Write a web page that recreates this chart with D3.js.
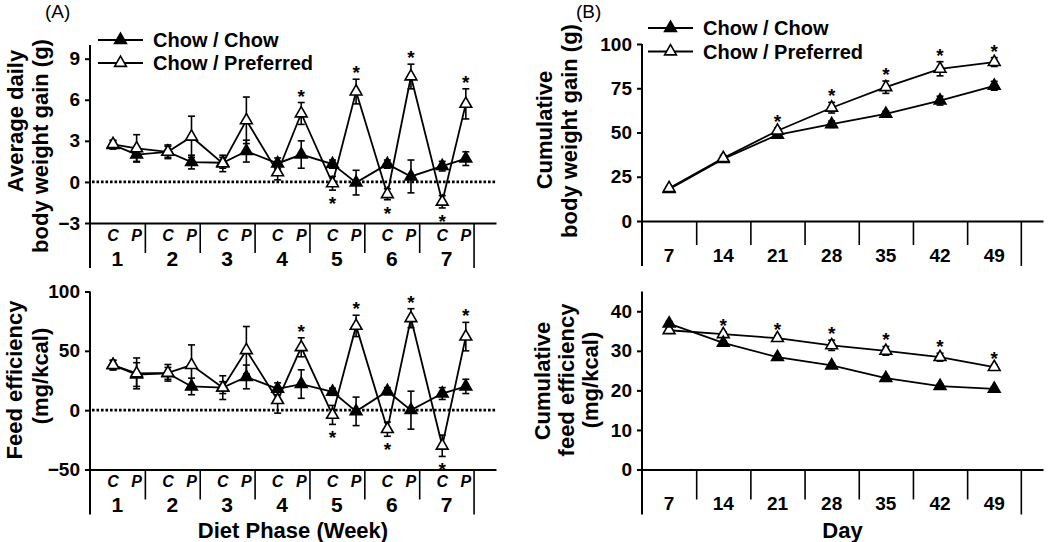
<!DOCTYPE html>
<html>
<head>
<meta charset="utf-8">
<script src="https://cdn.jsdelivr.net/npm/d3@7"></script>
<style>
  html, body { margin: 0; padding: 0; background: #fff; }
  svg { display: block; font-family: "Liberation Sans", Arial, Helvetica, sans-serif; }
</style>
</head>
<body>
<svg id="chart" width="1050" height="542"></svg>
<script>
// ---------------- data ----------------
const seriesNames = ["Chow / Chow", "Chow / Preferred"];
const weekLabels = ["1", "2", "3", "4", "5", "6", "7"];
const phaseLabels = ["C", "P"];
const dayLabels = ["7", "14", "21", "28", "35", "42", "49"];

// (A) top: average daily body weight gain (g), order C1,P1,C2,P2,...,C7,P7
const avgGainCC    = [2.7, 2.0, 2.2, 1.45, 1.4, 2.25, 1.35, 2.0, 1.3, -0.05, 1.3, 0.4, 1.15, 1.7];
const avgGainCCsem = [0.3, 0.5, 0.4, 0.5, 0.4, 0.8, 0.4, 1.0, 0.3, 0.9, 0.3, 1.2, 0.35, 0.5];
const avgGainCP    = [2.75, 2.45, 2.2, 3.3, 1.35, 4.5, 0.7, 5.0, -0.1, 6.6, -0.9, 7.7, -1.45, 5.7];
const avgGainCPsem = [0.3, 1.0, 0.5, 1.5, 0.6, 1.7, 0.55, 0.8, 0.5, 0.9, 0.4, 0.9, 0.45, 1.1];
const avgGainSig   = ["", "", "", "", "", "", "", "up", "down", "up", "down", "up", "down", "up"];

// (A) bottom: feed efficiency (mg/kcal)
const feedEffCC    = [38, 30, 31, 20, 19, 28, 18, 22, 15.5, -1, 16, 0, 14, 20];
const feedEffCCsem = [4, 10, 5, 7, 5, 10, 5, 12, 3, 12, 3, 16, 5, 6];
const feedEffCP    = [38, 31, 31.5, 38, 19, 50.5, 8.5, 53, -4, 71, -16, 77.5, -30, 62];
const feedEffCPsem = [4, 13, 7, 17, 10, 20, 11, 8, 8, 9, 6, 8, 9, 12];
const feedEffSig   = ["", "", "", "", "", "", "", "up", "down", "up", "down", "up", "down", "up"];

// (B) top: cumulative body weight gain (g)
const cumGainCC    = [18, 35, 48.7, 54.7, 60.5, 68, 76.4];
const cumGainCCsem = [1, 1.2, 1.5, 1.8, 1.5, 2.5, 2.5];
const cumGainCP    = [18.5, 35.5, 51, 64, 75.6, 86, 89.8];
const cumGainCPsem = [1, 1.5, 1.5, 3, 3.5, 4, 2.5];
const cumGainSig   = ["", "", "up", "up", "up", "up", "up"];

// (B) bottom: cumulative feed efficiency (mg/kcal)
const cumEffCC     = [36.9, 32, 28.4, 26.3, 23.1, 21.1, 20.4];
const cumEffCCsem  = [0.5, 0.5, 0.5, 0.5, 0.5, 0.5, 0.5];
const cumEffCP     = [35.2, 34.2, 33.2, 31.4, 30, 28.4, 25.9];
const cumEffCPsem  = [0.5, 0.6, 0.6, 1.3, 1.1, 1.0, 0.6];
const cumEffSig    = ["", "up", "up", "up", "up", "up", "up"];

// ---------------- drawing ----------------
const svg = d3.select("#chart");
svg.append("rect").attr("width", 1050).attr("height", 542).attr("fill", "#fff");

const tri = d3.symbol().type(d3.symbolTriangle).size(60);

function drawPanel(cfg) {
  const g = svg.append("g");
  const x = d3.scaleLinear().domain([0, 7.4]).range([cfg.x0, cfg.x1]);
  const y = d3.scaleLinear().domain(cfg.yDomain).range([cfg.yBottom, cfg.yTop]);
  const xPos = cfg.phased
    ? (i => x(Math.floor(i / 2) + (i % 2 ? 0.85 : 0.42)))
    : (i => x(i + 0.5));

  // y axis
  const ya = g.append("g").attr("transform", `translate(${cfg.x0},0)`)
    .call(d3.axisLeft(y).tickValues(cfg.yTicks).tickSize(5).tickPadding(5).tickSizeOuter(0));
  ya.select(".domain").remove();
  ya.selectAll(".tick line").attr("stroke", "#000").attr("stroke-width", 2);
  ya.selectAll(".tick text").attr("font-size", 19).attr("font-weight", "bold")
    .attr("fill", "#000").attr("font-family", "Liberation Sans, Arial, sans-serif");
  g.append("line").attr("x1", cfg.x0).attr("x2", cfg.x0)
    .attr("y1", cfg.yTop).attr("y2", cfg.yBottom + 45)
    .attr("stroke", "#000").attr("stroke-width", 2);

  // x axis with category box dividers
  const xa = g.append("g").attr("transform", `translate(0,${cfg.yBottom})`)
    .call(d3.axisBottom(x).tickValues([1, 2, 3, 4, 5, 6]).tickSize(cfg.divLen).tickFormat("").tickSizeOuter(0));
  xa.select(".domain").attr("stroke", "#000").attr("stroke-width", 2);
  xa.selectAll(".tick line").attr("stroke", "#000").attr("stroke-width", 1.6);
  g.append("line").attr("x1", x(7)).attr("x2", x(7))
    .attr("y1", cfg.yBottom).attr("y2", cfg.yBottom + 45)
    .attr("stroke", "#000").attr("stroke-width", 1.6);

  if (cfg.phased) {
    weekLabels.forEach((w, k) => {
      phaseLabels.forEach((p, j) => {
        g.append("text").attr("x", xPos(k * 2 + j)).attr("y", cfg.yBottom + 12)
          .attr("text-anchor", "middle").attr("dominant-baseline", "central")
          .attr("font-size", 16).attr("font-weight", "bold").attr("font-style", "italic")
          .text(p);
      });
      g.append("text").attr("x", x(k + 0.5)).attr("y", cfg.yBottom + 35)
        .attr("text-anchor", "middle").attr("dominant-baseline", "central")
        .attr("font-size", 21).attr("font-weight", "bold").text(w);
    });
  } else {
    dayLabels.forEach((d, k) => {
      g.append("text").attr("x", xPos(k)).attr("y", cfg.yBottom + 34)
        .attr("text-anchor", "middle").attr("dominant-baseline", "central")
        .attr("font-size", 19).attr("font-weight", "bold").text(d);
    });
  }

  // zero reference line
  if (cfg.zeroLine) {
    g.append("line").attr("x1", cfg.x0 + 2).attr("x2", cfg.x1)
      .attr("y1", y(0)).attr("y2", y(0))
      .attr("stroke", "#000").attr("stroke-width", 2.6).attr("stroke-dasharray", "2.6 1.9");
  }

  // y title
  cfg.yTitle.forEach((t, k) => {
    g.append("text")
      .attr("transform", `translate(${cfg.yTitleX[k]},${cfg.yTitleY[k]}) rotate(-90)`)
      .attr("text-anchor", "middle").attr("dominant-baseline", "central")
      .attr("font-size", 22).attr("font-weight", "bold").text(t);
  });

  // error bars
  const cap = 3.5;
  function errBars(vals, sems) {
    vals.forEach((v, i) => {
      const cx = xPos(i);
      const y1 = y(v - sems[i]), y2 = y(v + sems[i]);
      g.append("line").attr("x1", cx).attr("x2", cx).attr("y1", y1).attr("y2", y2)
        .attr("stroke", "#000").attr("stroke-width", 1.6);
      [y1, y2].forEach(yy => g.append("line").attr("x1", cx - cap).attr("x2", cx + cap)
        .attr("y1", yy).attr("y2", yy).attr("stroke", "#000").attr("stroke-width", 1.6));
    });
  }
  errBars(cfg.cc, cfg.ccSem);
  errBars(cfg.cp, cfg.cpSem);

  const line = d3.line().x((d, i) => xPos(i)).y(d => y(d));
  g.append("path").datum(cfg.cc).attr("d", line).attr("fill", "none")
    .attr("stroke", "#000").attr("stroke-width", 1.8);
  g.append("path").datum(cfg.cp).attr("d", line).attr("fill", "none")
    .attr("stroke", "#000").attr("stroke-width", 1.8);

  function markers(vals, filled) {
    vals.forEach((v, i) => {
      g.append("path").attr("d", tri)
        .attr("transform", `translate(${xPos(i)},${y(v)})`)
        .attr("fill", filled ? "#000" : "#fff")
        .attr("stroke", "#000").attr("stroke-width", 1.6);
    });
  }
  if (cfg.filledOnTop) { markers(cfg.cp, false); markers(cfg.cc, true); }
  else { markers(cfg.cc, true); markers(cfg.cp, false); }

  // significance stars
  cfg.sig.forEach((s, i) => {
    if (!s) return;
    const cx = xPos(i);
    if (s === "up") {
      const top = Math.max(cfg.cp[i] + cfg.cpSem[i], cfg.cc[i] + cfg.ccSem[i]);
      g.append("text").attr("x", cx).attr("y", y(top))
        .attr("text-anchor", "middle").attr("font-size", 19).attr("font-weight", "bold").text("*");
    } else {
      const bot = cfg.cp[i] - cfg.cpSem[i];
      g.append("text").attr("x", cx).attr("y", y(bot) + 20)
        .attr("text-anchor", "middle").attr("font-size", 19).attr("font-weight", "bold").text("*");
    }
  });

  // legend
  if (cfg.legend) {
    const L = cfg.legend;
    seriesNames.forEach((name, k) => {
      const ly = L.y + k * L.dy;
      g.append("line").attr("x1", L.x).attr("x2", L.x + 45).attr("y1", ly).attr("y2", ly)
        .attr("stroke", "#000").attr("stroke-width", 1.8);
      g.append("path").attr("d", tri).attr("transform", `translate(${L.x + 22.5},${ly})`)
        .attr("fill", k === 0 ? "#000" : "#fff").attr("stroke", "#000").attr("stroke-width", 1.6);
      g.append("text").attr("x", L.x + 55).attr("y", ly).attr("dominant-baseline", "central")
        .attr("font-size", 20).attr("font-weight", "bold").text(name);
    });
  }
  if (cfg.panelLabel) {
    g.append("text").attr("x", cfg.panelLabel.x).attr("y", cfg.panelLabel.y)
      .attr("font-size", 19).text(cfg.panelLabel.t);
  }
  if (cfg.xTitle) {
    g.append("text").attr("x", (cfg.x0 + cfg.x1) / 2).attr("y", 530)
      .attr("text-anchor", "middle").attr("dominant-baseline", "central")
      .attr("font-size", 22).attr("font-weight", "bold").text(cfg.xTitle);
  }
}

drawPanel({
  x0: 90, x1: 496, yTop: 45, yBottom: 223, yDomain: [-3, 10], yTicks: [-3, 0, 3, 6, 9],
  phased: true, divLen: 30, zeroLine: true,
  cc: avgGainCC, ccSem: avgGainCCsem, cp: avgGainCP, cpSem: avgGainCPsem, sig: avgGainSig,
  yTitle: ["Average daily", "body weight gain (g)"], yTitleX: [15, 40], yTitleY: [121, 146],
  legend: { x: 98, y: 40, dy: 23 }, panelLabel: { x: 45, y: 18, t: "(A)" }
});
drawPanel({
  x0: 90, x1: 496, yTop: 291.5, yBottom: 469.5, yDomain: [-50, 100], yTicks: [-50, 0, 50, 100],
  phased: true, divLen: 30, zeroLine: true,
  cc: feedEffCC, ccSem: feedEffCCsem, cp: feedEffCP, cpSem: feedEffCPsem, sig: feedEffSig,
  yTitle: ["Feed efficiency", "(mg/kcal)"], yTitleX: [14, 40], yTitleY: [380, 376],
  xTitle: "Diet Phase (Week)"
});
drawPanel({
  x0: 642, x1: 1043, yTop: 44, yBottom: 221, yDomain: [0, 100], yTicks: [0, 25, 50, 75, 100],
  phased: false, divLen: 24, zeroLine: false,
  cc: cumGainCC, ccSem: cumGainCCsem, cp: cumGainCP, cpSem: cumGainCPsem, sig: cumGainSig,
  yTitle: ["Cumulative", "body weight gain (g)"], yTitleX: [544, 569], yTitleY: [130, 131],
  legend: { x: 648, y: 28, dy: 23.5 }, panelLabel: { x: 576, y: 18, t: "(B)" }
});
drawPanel({
  x0: 642, x1: 1043, yTop: 291.5, yBottom: 469.5, yDomain: [0, 45], yTicks: [0, 10, 20, 30, 40],
  phased: false, divLen: 30, zeroLine: false, filledOnTop: true,
  cc: cumEffCC, ccSem: cumEffCCsem, cp: cumEffCP, cpSem: cumEffCPsem, sig: cumEffSig,
  yTitle: ["Cumulative", "feed efficiency", "(mg/kcal)"], yTitleX: [542, 566, 590], yTitleY: [381, 380, 380],
  xTitle: "Day"
});
</script>
</body>
</html>
